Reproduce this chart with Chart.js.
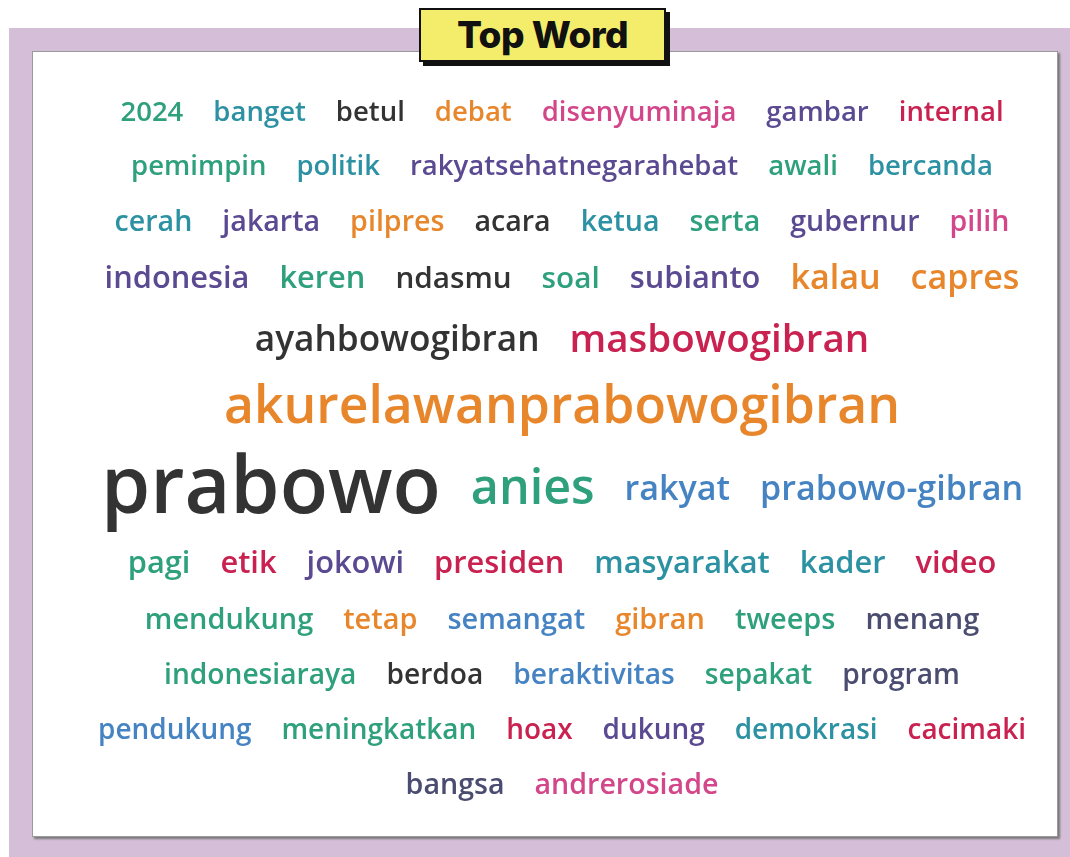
<!DOCTYPE html>
<html>
<head>
<meta charset="utf-8">
<script src="https://cdn.jsdelivr.net/npm/chart.js@4.4.1/dist/chart.umd.min.js"></script>
<style>
  body { margin: 0; background: #fff; }
  #page { position: relative; width: 1070px; height: 857px; overflow: hidden; background: #fff; }
  #frame { position: absolute; left: 9px; top: 28px; right: 0; bottom: 0; background: #d5bfd8; }
  #panel { position: absolute; left: 32px; top: 51px; width: 1024px; height: 784px; background: #fff;
           border: 1px solid #9a9a9a; box-shadow: 2px 2px 2px #777; }
  #title { position: absolute; left: 419px; top: 8px; width: 243px; height: 50px; background: #f4ed6c;
           border: 2px solid #111; box-shadow: 4px 4px 0 #111; font: 800 37px Inter, sans-serif;
           text-align: center; line-height: 50px; color: #111; letter-spacing: -0.5px; }
  #cloud { position: absolute; left: 0; top: 0; }
</style>
</head>
<body>
<div id="page">
  <div id="frame"></div>
  <div id="panel"></div>
  <div id="title">Top Word</div>
  <canvas id="cloud" width="1070" height="857"></canvas>
</div>
<script>
// words in reading order, with their size (weight) and colour
var words = [
  "2024","banget","betul","debat","disenyuminaja","gambar","internal",
  "pemimpin","politik","rakyatsehatnegarahebat","awali","bercanda",
  "cerah","jakarta","pilpres","acara","ketua","serta","gubernur","pilih",
  "indonesia","keren","ndasmu","soal","subianto","kalau","capres",
  "ayahbowogibran","masbowogibran",
  "akurelawanprabowogibran",
  "prabowo","anies","rakyat","prabowo-gibran",
  "pagi","etik","jokowi","presiden","masyarakat","kader","video",
  "mendukung","tetap","semangat","gibran","tweeps","menang",
  "indonesiaraya","berdoa","beraktivitas","sepakat","program",
  "pendukung","meningkatkan","hoax","dukung","demokrasi","cacimaki",
  "bangsa","andrerosiade"
];
var weights = [
  25,25,25,25,25,25,25,
  25,25,25,25,25,
  26,26,26,26,26,26,26,26,
  28,28,27,27,28,31,31,
  32,35,
  47,
  72,44,31,31,
  28,28,28,28,28,28,28,
  26.3,26.3,26.3,26.3,26.3,26.3,
  25.6,25.6,25.6,25.6,25.6,
  25.4,25.4,25.4,25.4,25.4,25.4,
  26,26
];
var G = "#2fa07c", T = "#2c92a3", B = "#4583c2", D = "#333333", O = "#e8862c",
    P = "#d3468a", C = "#c92150", V = "#5b4a92", S = "#4a4c70";
var colors = [
  G,T,D,O,P,V,C,
  G,T,V,G,T,
  T,V,O,D,T,G,V,P,
  V,G,D,G,V,O,O,
  D,C,
  O,
  D,G,B,B,
  G,C,V,C,T,T,C,
  G,O,B,O,G,S,
  G,D,B,G,S,
  B,G,C,V,T,C,
  S,P
];
var rowCounts = [7, 5, 8, 7, 2, 1, 4, 7, 6, 5, 6, 2];

// simple row layout: measure each word, centre the row, stack rows by size
var meas = document.createElement("canvas").getContext("2d");
function fontFor(s) { return "600 " + (s * 1.1) + "px 'Open Sans'"; }
var centerX = 562, firstY = 113, gap = 30;
var pts = [];
var i = 0, y = firstY, prevMax = 0;
rowCounts.forEach(function (n, r) {
  var ws = [], tot = 0, mx = 0;
  for (var k = 0; k < n; k++) {
    meas.font = fontFor(weights[i + k]);
    var w = meas.measureText(words[i + k]).width;
    ws.push(w); tot += w; mx = Math.max(mx, weights[i + k]);
  }
  tot += gap * (n - 1);
  if (r > 0) y += 0.8 * (prevMax + mx) / 2 + 34.5;
  var x = centerX - tot / 2;
  for (var k = 0; k < n; k++) {
    pts.push({ x: x + ws[k] / 2, y: y, i: i + k });
    x += ws[k] + gap;
  }
  prevMax = mx;
  i += n;
});

var wordPlugin = {
  id: "words",
  afterDatasetsDraw: function (chart) {
    var c = chart.ctx;
    var meta = chart.getDatasetMeta(0);
    c.save();
    c.textAlign = "center";
    c.textBaseline = "middle";
    meta.data.forEach(function (el, k) {
      var d = pts[k];
      c.font = fontFor(weights[d.i]);
      c.fillStyle = colors[d.i];
      c.fillText(words[d.i], el.x, el.y);
    });
    c.restore();
  }
};

new Chart(document.getElementById("cloud"), {
  type: "scatter",
  data: { datasets: [{ data: pts, pointRadius: 0 }] },
  options: {
    responsive: false,
    animation: false,
    layout: { padding: 0 },
    plugins: { legend: { display: false }, tooltip: { enabled: false } },
    scales: {
      x: { type: "linear", min: 0, max: 1070, display: false },
      y: { type: "linear", min: 0, max: 857, reverse: true, display: false }
    }
  },
  plugins: [wordPlugin]
});
</script>
</body>
</html>
